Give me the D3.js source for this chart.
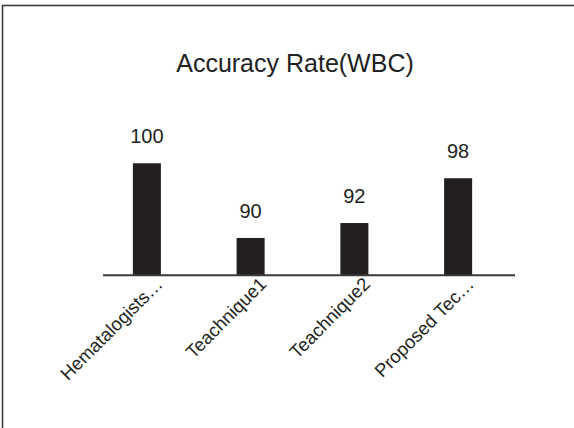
<!DOCTYPE html>
<html>
<head>
<meta charset="utf-8">
<script src="https://cdn.jsdelivr.net/npm/d3@7"></script>
<style>
  html, body { margin: 0; padding: 0; background: #fff; }
  svg { display: block; font-family: "Liberation Sans", Arial, sans-serif; }
</style>
</head>
<body>
<svg id="chart" width="574" height="428"></svg>
<script>
// Accuracy of WBC classification per method
const categories = ["Hematalogists\u2026", "Teachnique1", "Teachnique2", "Proposed Tec\u2026"];
const values = [100, 90, 92, 98];
const title = "Accuracy Rate(WBC)";

const svg = d3.select("#chart");
const W = 574, H = 428;

// outer frame (clipped by the page on right and bottom)
svg.append("rect")
  .attr("x", 2.5).attr("y", 5.5)
  .attr("width", W + 10).attr("height", H + 10)
  .attr("fill", "#fff")
  .attr("stroke", "#3a3a3a")
  .attr("stroke-width", 1.6);

const x = d3.scaleBand()
  .domain(categories)
  .range([95, 510])
  .paddingInner(0.73)
  .paddingOuter(0.365);

const y = d3.scaleLinear()
  .domain([85, 100])
  .range([275.3, 163.3]);

// title
svg.append("text")
  .attr("x", 295).attr("y", 72)
  .attr("text-anchor", "middle")
  .attr("font-size", 25)
  .attr("fill", "#222")
  .text(title);

// bars
svg.append("g").selectAll("rect")
  .data(values)
  .join("rect")
  .attr("x", (d, i) => x(categories[i]))
  .attr("y", d => y(d))
  .attr("width", x.bandwidth())
  .attr("height", d => y(85) - y(d))
  .attr("fill", "#231f20");

// value labels
svg.append("g").selectAll("text")
  .data(values)
  .join("text")
  .attr("x", (d, i) => x(categories[i]) + x.bandwidth() / 2)
  .attr("y", d => y(d) - 20)
  .attr("text-anchor", "middle")
  .attr("font-size", 20)
  .attr("fill", "#231f20")
  .text(d => d);

// category axis
const axis = d3.axisBottom(x).tickSize(0).tickPadding(0);
const gx = svg.append("g")
  .attr("transform", `translate(0, ${y(85)})`)
  .call(axis);
gx.select(".domain").remove();
svg.append("line")
  .attr("x1", 103).attr("x2", 515)
  .attr("y1", y(85)).attr("y2", y(85))
  .attr("stroke", "#3a3a3a")
  .attr("stroke-width", 2);

gx.selectAll(".tick text")
  .attr("font-size", 18.5)
  .attr("font-family", "\"Liberation Sans\", Arial, sans-serif")
  .attr("fill", "#231f20")
  .attr("text-anchor", "end")
  .attr("dy", 0)
  .attr("y", 0)
  .attr("transform", "translate(17, 10) rotate(-45)");
</script>
</body>
</html>
